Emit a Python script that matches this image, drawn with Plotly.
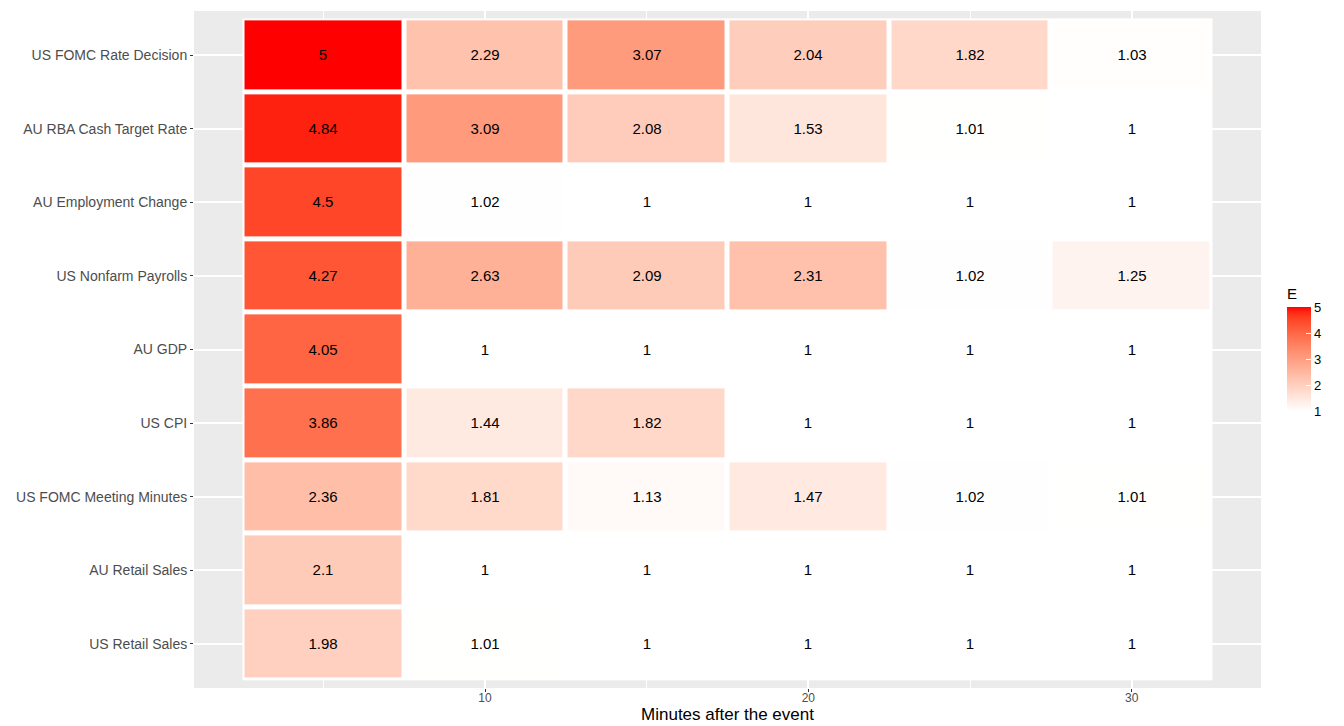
import plotly.graph_objects as go
import numpy as np

# ---- data ----
events = ["US FOMC Rate Decision", "AU RBA Cash Target Rate", "AU Employment Change",
          "US Nonfarm Payrolls", "AU GDP", "US CPI", "US FOMC Meeting Minutes",
          "AU Retail Sales", "US Retail Sales"]
minutes = [5, 10, 15, 20, 25, 30]
us_fomc_rate = [5, 2.29, 3.07, 2.04, 1.82, 1.03]
au_rba_rate = [4.84, 3.09, 2.08, 1.53, 1.01, 1]
au_employment = [4.5, 1.02, 1, 1, 1, 1]
us_nfp = [4.27, 2.63, 2.09, 2.31, 1.02, 1.25]
au_gdp = [4.05, 1, 1, 1, 1, 1]
us_cpi = [3.86, 1.44, 1.82, 1, 1, 1]
us_fomc_minutes = [2.36, 1.81, 1.13, 1.47, 1.02, 1.01]
au_retail = [2.1, 1, 1, 1, 1, 1]
us_retail = [1.98, 1.01, 1, 1, 1, 1]
x_ticks = [10, 20, 30]
legend_ticks = [1, 2, 3, 4, 5]

rows = [us_fomc_rate, au_rba_rate, au_employment, us_nfp, au_gdp, us_cpi,
        us_fomc_minutes, au_retail, us_retail]

# bottom-to-top order for plotting
y_cats = events[::-1]
z = [r for r in rows[::-1]]
text = [[f"{v:g}" for v in r] for r in z]

# ---- Lab interpolation white -> red (ggplot scale_fill_gradient) ----
def srgb_to_lab(rgb):
    c = np.array(rgb) / 255.0
    c = np.where(c <= 0.04045, c / 12.92, ((c + 0.055) / 1.055) ** 2.4)
    M = np.array([[0.4124, 0.3576, 0.1805], [0.2126, 0.7152, 0.0722], [0.0193, 0.1192, 0.9505]])
    xyz = M @ c
    wp = np.array([0.95047, 1.0, 1.08883])
    t = xyz / wp
    f = np.where(t > (6 / 29) ** 3, np.cbrt(t), t / (3 * (6 / 29) ** 2) + 4 / 29)
    return np.array([116 * f[1] - 16, 500 * (f[0] - f[1]), 200 * (f[1] - f[2])])

def lab_to_srgb(lab):
    L, a, b = lab
    fy = (L + 16) / 116
    fx = fy + a / 500
    fz = fy - b / 200
    def finv(f):
        return f ** 3 if f > 6 / 29 else 3 * (6 / 29) ** 2 * (f - 4 / 29)
    wp = np.array([0.95047, 1.0, 1.08883])
    xyz = np.array([finv(fx), finv(fy), finv(fz)]) * wp
    Minv = np.array([[3.2406, -1.5372, -0.4986], [-0.9689, 1.8758, 0.0415], [0.0557, -0.2040, 1.0570]])
    c = Minv @ xyz
    c = np.clip(c, 0, 1)
    c = np.where(c <= 0.0031308, 12.92 * c, 1.055 * c ** (1 / 2.4) - 0.055)
    return tuple(int(round(v * 255)) for v in c)

lw = srgb_to_lab((255, 255, 255))
lr = srgb_to_lab((255, 0, 0))
n = 21
colorscale = []
for i in range(n):
    t = i / (n - 1)
    r, g, b = lab_to_srgb(lw + (lr - lw) * t)
    colorscale.append([t, f"rgb({r},{g},{b})"])

zmin = min(min(r) for r in rows)
zmax = max(max(r) for r in rows)

FONT = "Liberation Sans, Arial, Helvetica"

fig = go.Figure()

# white underlay (tile borders)
fig.add_trace(go.Heatmap(
    x=minutes, y=y_cats, z=[[0] * len(minutes) for _ in y_cats],
    colorscale=[[0, "white"], [1, "white"]], showscale=False, hoverinfo="skip"))

fig.add_trace(go.Heatmap(
    x=minutes, y=y_cats, z=z, text=text, texttemplate="%{text}",
    textfont=dict(family=FONT, size=15, color="black"),
    colorscale=colorscale, zmin=zmin, zmax=zmax, xgap=5, ygap=5,
    colorbar=dict(
        title=dict(text="E", side="top", font=dict(family=FONT, size=15, color="black")),
        thickness=24, lenmode="pixels", len=126,
        x=1.0243, xanchor="left", xpad=0,
        y=0.409, yanchor="bottom", ypad=0,
        tickvals=legend_ticks, ticks="inside", ticklen=5, tickcolor="white", tickwidth=1,
        tickprefix="\u00a0\u00a0\u00a0",
        tickfont=dict(family=FONT, size=13, color="black"),
        outlinewidth=0,
    ),
))

fig.update_layout(
    width=1344, height=726,
    margin=dict(l=186, r=91, t=3, b=46),
    paper_bgcolor="white", plot_bgcolor="#EBEBEB",
    font=dict(family=FONT, color="#4D4D4D"),
)
fig.update_xaxes(
    range=[minutes[0] - 4, minutes[-1] + 4], tickvals=x_ticks,
    showgrid=True, gridcolor="white", gridwidth=1.5,
    minor=dict(tickvals=[5, 15, 25], showgrid=True, gridcolor="white", gridwidth=0.7, ticks=""),
    ticks="outside", ticklen=3, tickcolor="#333333", tickwidth=1,
    ticklabelstandoff=-4,
    tickfont=dict(size=12, color="#4D4D4D"), zeroline=False, showline=False,
    title=dict(text="Minutes after the event", font=dict(size=17, color="black"), standoff=1),
)
fig.update_yaxes(
    type="category", categoryorder="array", categoryarray=y_cats,
    range=[-0.6, len(y_cats) - 0.4],
    showgrid=True, gridcolor="white", gridwidth=1.5,
    ticks="outside", ticklen=3, tickcolor="#333333", tickwidth=1,
    tickfont=dict(size=14, color="#4D4D4D"), zeroline=False, showline=False,
)

fig.write_html("out.html")
